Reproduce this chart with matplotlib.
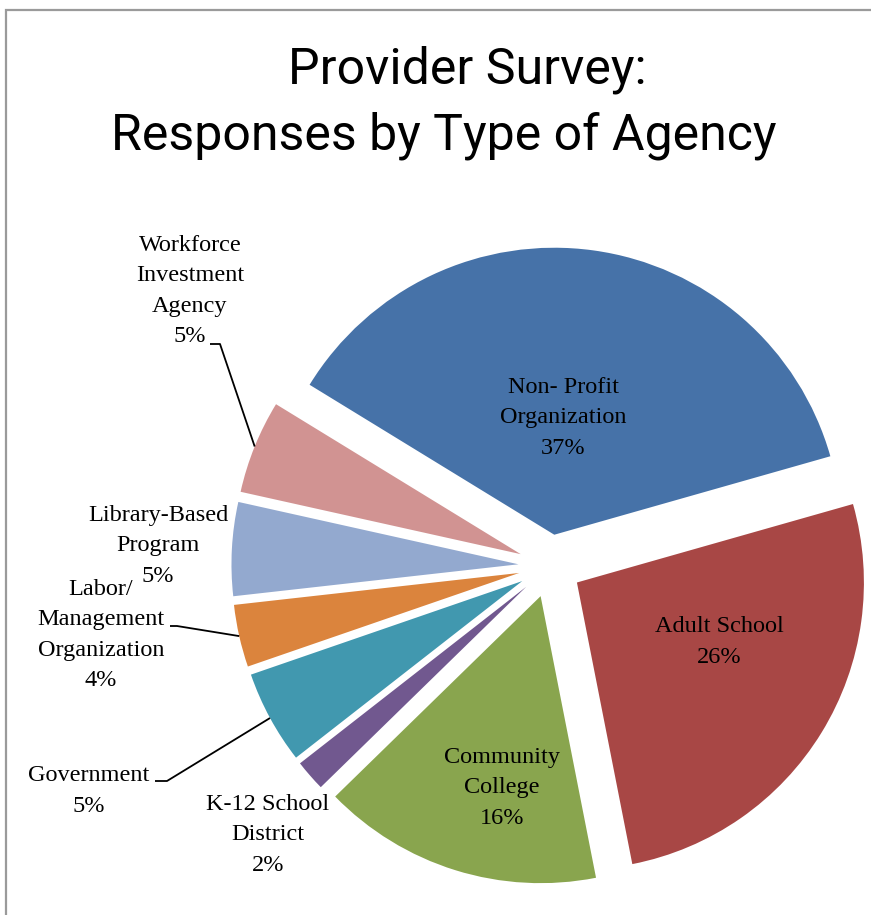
import matplotlib.pyplot as plt
from matplotlib.patches import Rectangle
import numpy as np

# survey responses per agency type (counts)
categories = ['Non- Profit\nOrganization', 'Adult School', 'Community\nCollege',
              'K-12 School\nDistrict', 'Government', 'Labor/\nManagement\nOrganization',
              'Library-Based\nProgram', 'Workforce\nInvestment\nAgency']
responses = [21, 15, 9, 1, 3, 2, 3, 3]
colors = ['#4672A8', '#A84745', '#89A54E', '#71588F', '#4198AF', '#DB843D',
          '#93A9CF', '#D19392']
title_lines = ['Provider Survey:', 'Responses by Type of Agency']

W, H = 871, 915
CX, CY, R = 550, 566, 287   # pie centre / radius in pixels


def px(x, y):
    # pixel position -> data coords (unit radius pie)
    return (x - CX) / R, (CY - y) / R


fig = plt.figure(figsize=(W / 100, H / 100), dpi=100)
ax = fig.add_axes([0, 0, 1, 1])
wedges, _ = ax.pie(responses, colors=colors, startangle=148.5, counterclock=False,
                   explode=[0.11] * len(responses), wedgeprops=dict(linewidth=0))
ax.set_xlim(-CX / R, (W - CX) / R)
ax.set_ylim((CY - H) / R, CY / R)
ax.set_aspect('equal')
ax.axis('off')

# chart-area border (only top and left edges are inside the image)
fig.add_artist(Rectangle((6 / W, -0.1), 1.2, 1 - 10 / H + 0.1, transform=fig.transFigure,
                         fill=False, edgecolor='#9a9a9a', linewidth=1.6))

total = sum(responses)
pct = [round(100 * v / total) for v in responses]
labels = [f'{c}\n{p}%' for c, p in zip(categories, pct)]

label_pos = [(563, 418), (719, 642), (502, 788), (268, 835),
             (89, 791), (101, 635), (158, 546), (190, 291)]
serif = dict(family='Liberation Serif', fontsize=17.5, linespacing=1.6,
             ha='center', va='center', color='black')
for lab, (x, y) in zip(labels, label_pos):
    ax.text(*px(x, y), lab, **serif)

# leader lines for the outside labels: label end -> knee -> slice edge
leaders = {7: [(210, 344), (220, 344)],
           4: [(155, 781), (167, 781)],
           5: [(170, 626), (177, 626)]}
for i, pts in leaders.items():
    w = wedges[i]
    mid = np.deg2rad((w.theta1 + w.theta2) / 2)
    ex, ey = w.center[0] + w.r * np.cos(mid), w.center[1] + w.r * np.sin(mid)
    xs = [px(*p)[0] for p in pts] + [ex]
    ys = [px(*p)[1] for p in pts] + [ey]
    ax.plot(xs, ys, color='black', linewidth=1.3, solid_capstyle='butt')

title_font = dict(ha='center', va='baseline', family='Roboto', fontsize=36, color='black')
fig.text(467 / W, 1 - 83 / H, title_lines[0], **title_font)
fig.text(444 / W, 1 - 149 / H, title_lines[1], **title_font)

fig.savefig('out.png', dpi=100)
